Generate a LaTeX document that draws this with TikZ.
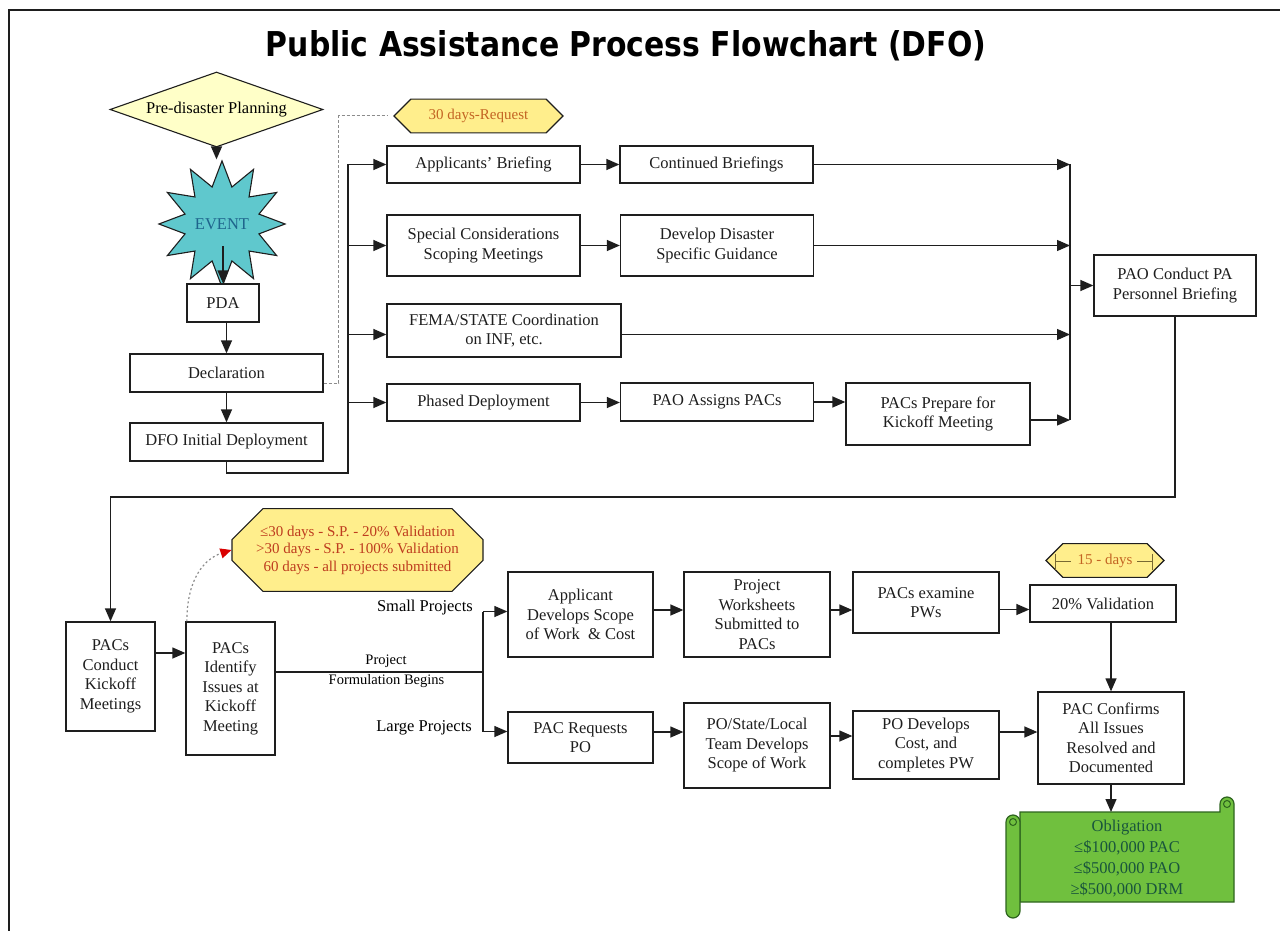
\documentclass[tikz,border=0pt]{standalone}
\usepackage{graphicx}
\usepackage{fontspec}
\setmainfont{Liberation Serif}
\newfontfamily\titlefont{DejaVu Sans}
\usetikzlibrary{shapes.geometric,shapes.misc,arrows.meta,calc}

\definecolor{ink}{RGB}{30,30,30}
\definecolor{diafill}{RGB}{255,255,200}
\definecolor{starfill}{RGB}{95,200,205}
\definecolor{startext}{RGB}{30,100,140}
\definecolor{notefill}{RGB}{255,238,140}
\definecolor{notetext}{RGB}{190,60,30}
\definecolor{daytext}{RGB}{195,100,35}
\definecolor{tickcol}{RGB}{120,105,50}
\definecolor{scrollfill}{RGB}{112,192,62}
\definecolor{scrolledge}{RGB}{45,100,30}
\definecolor{scrolltext}{RGB}{25,85,60}

\newcommand{\bodyfs}{\fontsize{16.5}{19.5}\selectfont}
\newcommand{\notefs}{\fontsize{15}{17.5}\selectfont}
\newcommand{\labelfs}{\fontsize{14.5}{17}\selectfont}

\begin{document}
\begin{tikzpicture}[x=1pt,y=-1pt,
  font=\bodyfs,
  box/.style={draw=ink, line width=1.3pt, fill=white, align=center, inner sep=1pt, text=ink},
  note/.style={chamfered rectangle, draw=ink, line width=1.1pt, fill=notefill, align=center, inner sep=1pt, font=\notefs},
  arr/.style={draw=ink, line width=1.3pt, -{Triangle[length=13pt,width=11pt]}},
  wire/.style={draw=ink, line width=1.3pt},
  dashline/.style={draw=black!45, line width=1pt, dash pattern=on 3pt off 2pt},
  dotline/.style={draw=black!45, line width=1.2pt, dash pattern=on 2pt off 2.5pt}
]
\useasboundingbox (0,0) rectangle (1280,931);
\fill[white] (0,0) rectangle (1280,931);

% page frame
\draw[ink, line width=1.8pt] (9,931) -- (9,10) -- (1280,10);

% title
\node[anchor=base, inner sep=0pt] (title) at (626,57)
  {\resizebox{720pt}{26pt}{\titlefont\bfseries Public Assistance Process Flowchart (DFO)}};

% ---- left column ----
\node[diamond, aspect=2.84, minimum width=213pt, minimum height=75pt, inner sep=0pt,
      draw=ink, line width=1.1pt, fill=diafill] (plan) at (216.5,109.5) {Pre-disaster Planning};
\node[star, star points=12, star point ratio=1.65, minimum size=102pt, inner sep=0pt,
      draw=ink, line width=1.1pt, fill=starfill, text=startext] (event) at (222,224) {EVENT};
\node[box, minimum width=72pt, minimum height=38pt] (pda) at (223,303) {PDA};
\node[box, minimum width=193pt, minimum height=38pt] (decl) at (226.5,373) {Declaration};
\node[box, minimum width=193pt, minimum height=38pt] (dfo) at (226.5,442) {DFO Initial Deployment};

% ---- first phase ----
\node[note, chamfered rectangle xsep=8pt, chamfered rectangle ysep=9pt,
      minimum width=169pt, minimum height=32pt, text=daytext] (days30) at (478.5,116) {30 days-Request};
\node[box, minimum width=193pt, minimum height=37pt] (app) at (483.5,164.5) {Applicants’ Briefing};
\node[box, minimum width=193pt, minimum height=37pt] (cont) at (716.5,164.5) {Continued Briefings};
\node[box, minimum width=193pt, minimum height=61pt] (spec) at (483.5,245.5) {Special Considerations\\Scoping Meetings};
\node[box, minimum width=193pt, minimum height=61pt] (dev) at (717,245.5) {Develop Disaster\\Specific Guidance};
\node[box, minimum width=234pt, minimum height=53pt] (fema) at (504,330.5) {FEMA/STATE Coordination\\on INF, etc.};
\node[box, minimum width=193pt, minimum height=37pt] (phased) at (483.5,402.5) {Phased Deployment};
\node[box, minimum width=193pt, minimum height=38pt] (paoa) at (717,402) {PAO Assigns PACs};
\node[box, minimum width=184pt, minimum height=62pt] (prep) at (938,414) {PACs Prepare for\\Kickoff Meeting};
\node[box, minimum width=162pt, minimum height=61pt] (paoc) at (1175,285.5) {PAO Conduct PA\\Personnel Briefing};

% ---- second phase ----
\node[box, minimum width=89pt, minimum height=109pt] (kick) at (110.5,676.5) {PACs\\Conduct\\Kickoff\\Meetings};
\node[box, minimum width=89pt, minimum height=133pt] (ident) at (230.5,688.5) {PACs\\Identify\\Issues at\\Kickoff\\Meeting};
\node[note, chamfered rectangle xsep=15pt, chamfered rectangle ysep=16pt,
      minimum width=251pt, minimum height=65pt, text=notetext] (oct) at (357.5,550)
  {≤30 days - S.P. - 20\% Validation\\>30 days - S.P. - 100\% Validation\\60 days - all projects submitted};

\node[anchor=east, inner sep=0pt] (small) at (473,608) {Small Projects};
\node[anchor=east, inner sep=0pt] (large) at (472,728) {Large Projects};
\node[font=\labelfs, inner sep=0pt] (proj) at (386,661) {Project};
\node[font=\labelfs, inner sep=0pt] (form) at (386.5,681) {Formulation Begins};

\node[box, minimum width=145pt, minimum height=85pt] (appdev) at (580.5,614.5) {Applicant\\Develops Scope\\of Work~ \& Cost};
\node[box, minimum width=146pt, minimum height=85pt] (pw) at (757,614.5) {Project\\Worksheets\\Submitted to\\PACs};
\node[box, minimum width=146pt, minimum height=61pt] (pacex) at (926,602.5) {PACs examine\\PWs};
\node[note, chamfered rectangle xsep=8pt, chamfered rectangle ysep=9pt,
      minimum width=118pt, minimum height=33pt, text=daytext] (d15) at (1105,560.5) {15 - days};
\node[box, minimum width=146pt, minimum height=37pt] (val) at (1103,603.5) {20\% Validation};

\node[box, minimum width=145pt, minimum height=51pt] (pacreq) at (580.5,737.5) {PAC Requests\\PO};
\node[box, minimum width=146pt, minimum height=85pt] (team) at (757,745.5) {PO/State/Local\\Team Develops\\Scope of Work};
\node[box, minimum width=146pt, minimum height=68pt] (podev) at (926,745) {PO Develops\\Cost, and\\completes PW};
\node[box, minimum width=146pt, minimum height=92pt] (confirm) at (1111,738) {PAC Confirms\\All Issues\\Resolved and\\Documented};

% obligation scroll
\draw[scrolledge, line width=1.2pt, fill=scrollfill]
  (1020,812) -- (1220,812) -- (1220,804) arc[start angle=180, end angle=0, radius=7pt]
  -- (1234,902) -- (1020,902) -- cycle;
\draw[scrolledge, line width=1.2pt, fill=scrollfill]
  (1006,822) arc[start angle=180, end angle=0, radius=7pt]
  -- (1020,911) arc[start angle=0, end angle=-180, radius=7pt] -- cycle;
\draw[scrolledge, line width=1pt] (1013,822) circle[radius=3.5pt];
\draw[scrolledge, line width=1pt] (1227,804) circle[radius=3.5pt];
\node[text=scrolltext, align=center, font=\fontsize{16.5}{21}\selectfont] (oblig) at (1127,859)
  {Obligation\\≤\$100,000 PAC\\≤\$500,000 PAO\\≥\$500,000 DRM};
\coordinate (scrolltop) at (1111,812);

% dimension marks inside the 15-day tag
\draw[tickcol, line width=1pt]
  ($(d15.center)+(-50,-7)$) -- ($(d15.center)+(-50,9)$)
  ($(d15.center)+(-50,1)$) -- ($(d15.center)+(-34,1)$)
  ($(d15.center)+(32,1)$) -- ($(d15.center)+(47,1)$)
  ($(d15.center)+(47,-7)$) -- ($(d15.center)+(47,9)$);

% ---- connectors: left column ----
\draw[arr] (plan.south) -- (plan.south |- event.north);
\draw[arr] ([yshift=-22pt]event.center -| pda.north) -- (pda.north);
\draw[arr] (pda.south -| decl.north) -- (decl.north);
\draw[arr] (decl.south) -- (dfo.north);

% request window (dashed)
\draw[dashline, shorten >=6pt] ([yshift=-10pt]decl.east) -- ++(15,0) |- (days30.west);

% distribution bus
\coordinate (b1) at (348,473);
\coordinate (b0) at (348,164.5);
\draw[wire] (dfo.south) |- (b1) -- (b0);
\draw[arr] (b0) -- (app.west);
\draw[arr] (b0 |- spec.west) -- (spec.west);
\draw[arr] ([yshift=-4pt]b0 |- fema.west) -- ([yshift=-4pt]fema.west);
\draw[arr] (b0 |- phased.west) -- (phased.west);

\draw[arr] (app.east) -- (cont.west);
\draw[arr] (spec.east) -- (dev.west);
\draw[arr] (phased.east) -- (phased.east -| paoa.west);
\draw[arr] (paoa.east) -- (paoa.east -| prep.west);

% merge bus
\coordinate (m0) at (1070,164.5);
\coordinate (m1) at (1070,420);
\draw[wire] (m0) -- (m1);
\draw[arr] (cont.east) -- (m0);
\draw[arr] (dev.east) -- (dev.east -| m0);
\draw[arr] ([yshift=-4pt]fema.east) -- ([yshift=-4pt]fema.east -| m0);
\draw[arr] ([yshift=-6pt]prep.east) -- (m1);
\draw[arr] (m0 |- paoc.west) -- (paoc.west);

% to kickoff meetings
\coordinate (r2) at (0,497);
\draw[arr] (paoc.south) |- (r2 -| kick.north) -- (kick.north);
\draw[arr] ([yshift=23.5pt]kick.east) -- ([yshift=23.5pt]kick.east -| ident.west);

% timeline note
\draw[dotline, -{Triangle[length=11pt,width=10pt,color=red!85!black]}]
  ([xshift=1.5pt]ident.north west) .. controls +(0,-45) and +(-25,8) .. (oct.west);

% project formulation split
\coordinate (sp) at (483,672);
\draw[wire] ([yshift=16.5pt]ident.east) -- (sp);
\draw[wire] ([yshift=3pt]sp |- appdev.west) -- ([yshift=6pt]sp |- pacreq.west);
\draw[arr] ([yshift=3pt]sp |- appdev.west) -- ([yshift=3pt]appdev.west);
\draw[arr] ([yshift=6pt]sp |- pacreq.west) -- ([yshift=6pt]pacreq.west);

% small projects
\draw[arr] ([yshift=4.5pt]appdev.east) -- ([yshift=4.5pt]appdev.east -| pw.west);
\draw[arr] ([yshift=4.5pt]pw.east) -- ([yshift=4.5pt]pw.east -| pacex.west);
\draw[arr] ([yshift=-7pt]pacex.east) -- ([yshift=-7pt]pacex.east -| val.west);
\draw[arr] (val.south -| confirm.north) -- (confirm.north);

% large projects
\draw[arr] ([yshift=5.5pt]pacreq.east) -- ([yshift=5.5pt]pacreq.east -| team.west);
\draw[arr] ([yshift=9.5pt]team.east) -- ([yshift=9.5pt]team.east -| podev.west);
\draw[arr] ([yshift=13pt]podev.east) -- ([yshift=13pt]podev.east -| confirm.west);

% obligation
\draw[arr] (confirm.south) -- (scrolltop);
\end{tikzpicture}
\end{document}
